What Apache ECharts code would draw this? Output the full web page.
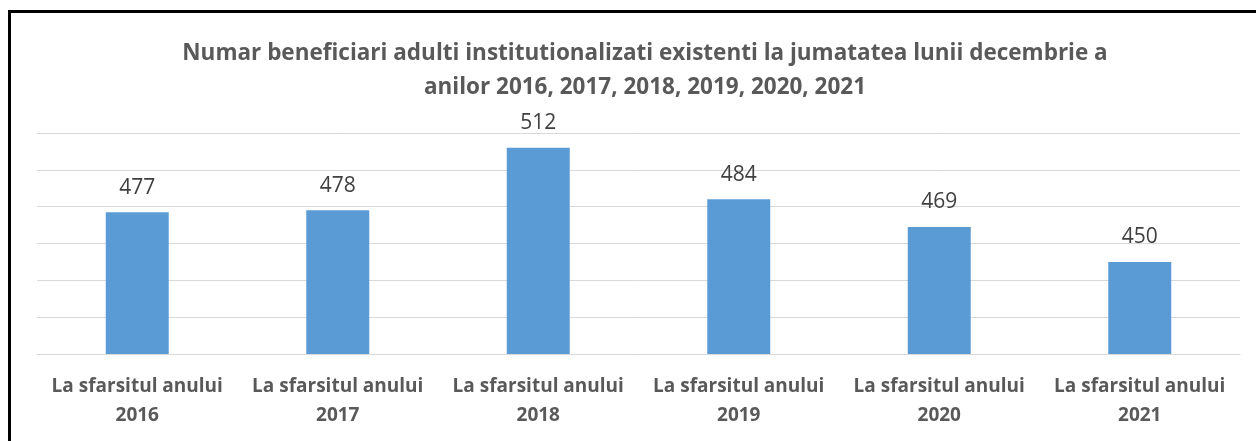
<!DOCTYPE html>
<html lang="ro">
<head>
    <meta charset="UTF-8">
    <title>Numar beneficiari adulti</title>
    <script src="https://cdn.jsdelivr.net/npm/echarts@6/dist/echarts.min.js"></script>
    <style>
        html, body { margin: 0; padding: 0; background: #fff; }
        #frame {
            position: absolute; left: 8px; top: 10px; right: 0; bottom: 0;
            border-left: 3px solid #000; border-top: 3px solid #000;
        }
        #chart { position: absolute; left: 0; top: 0; width: 1256px; height: 441px; }
    </style>
</head>
<body>
<div id="frame"></div>
<div id="chart"></div>
<script>
    // date
    var categories = [
        'La sfarsitul anului\n2016',
        'La sfarsitul anului\n2017',
        'La sfarsitul anului\n2018',
        'La sfarsitul anului\n2019',
        'La sfarsitul anului\n2020',
        'La sfarsitul anului\n2021'
    ];
    var values = [477, 478, 512, 484, 469, 450];

    var myChart = echarts.init(document.getElementById('chart'));

    var option = {
        animation: false,
        title: {
            text: 'Numar beneficiari adulti institutionalizati existenti la jumatatea lunii decembrie a\nanilor 2016, 2017, 2018, 2019, 2020, 2021',
            left: 640,
            top: 32,
            textAlign: 'center',
            textStyle: {
                fontFamily: 'Open Sans',
                fontSize: 22.5,
                fontWeight: 'bold',
                color: '#595959',
                lineHeight: 34
            }
        },
        grid: {
            left: 37,
            right: 16,
            top: 133,
            bottom: 87
        },
        xAxis: {
            type: 'category',
            data: categories,
            axisLine: { lineStyle: { color: '#d9d9d9' } },
            axisTick: { show: false },
            axisLabel: {
                interval: 0,
                margin: 18,
                fontFamily: 'Open Sans',
                fontSize: 19,
                fontWeight: 'bold',
                color: '#595959',
                lineHeight: 29
            }
        },
        yAxis: {
            type: 'value',
            min: 400,
            max: 520,
            interval: 20,
            axisLabel: { show: false },
            axisLine: { show: false },
            axisTick: { show: false },
            splitLine: { lineStyle: { color: '#d9d9d9' } }
        },
        series: [{
            type: 'bar',
            data: values,
            barWidth: 63,
            itemStyle: { color: '#5b9bd5' },
            label: {
                show: true,
                position: 'top',
                distance: 14,
                fontFamily: 'Open Sans',
                fontSize: 21,
                color: '#404040'
            }
        }]
    };
    myChart.setOption(option);
</script>
</body>
</html>
